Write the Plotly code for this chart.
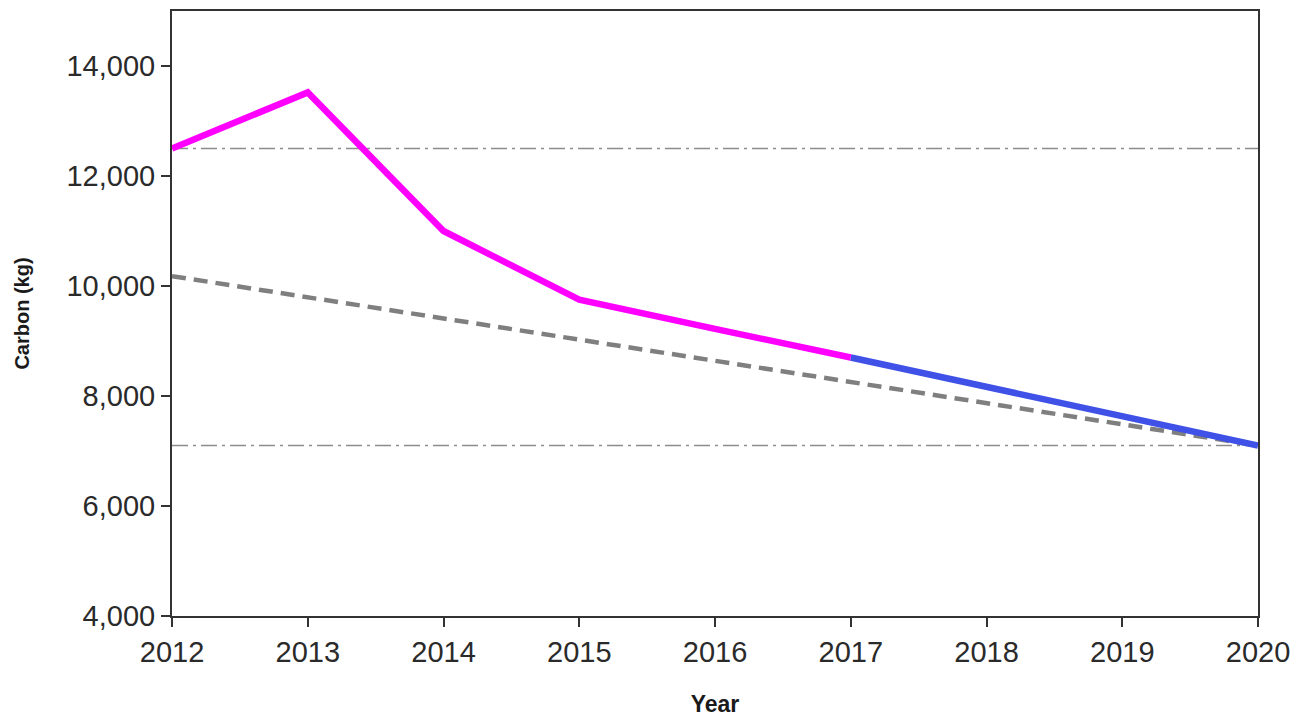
import plotly.graph_objects as go

years_actual = [2012, 2013, 2014, 2015, 2016, 2017]
carbon_actual = [12500, 13520, 11000, 9750, 9220, 8700]

years_proj = [2017, 2018, 2019, 2020]
carbon_proj = [8700, 8170, 7640, 7100]

years_trend = [2012, 2020]
carbon_trend = [10180, 7100]

years_ref = [2012, 2020]
ref_upper = [12500, 12500]
ref_lower = [7100, 7100]

y_ticks = [4000, 6000, 8000, 10000, 12000, 14000]
x_ticks = [2012, 2013, 2014, 2015, 2016, 2017, 2018, 2019, 2020]

fig = go.Figure()
fig.add_trace(go.Scatter(x=years_ref, y=ref_upper, mode="lines",
                         line=dict(color="#8c8c8c", width=1.5, dash="16px,5px,3px,5px"),
                         hoverinfo="skip", showlegend=False))
fig.add_trace(go.Scatter(x=years_ref, y=ref_lower, mode="lines",
                         line=dict(color="#8c8c8c", width=1.5, dash="16px,5px,3px,5px"),
                         hoverinfo="skip", showlegend=False))
fig.add_trace(go.Scatter(x=years_trend, y=carbon_trend, mode="lines",
                         line=dict(color="#7f7f7f", width=4.5, dash="14px,8px"),
                         showlegend=False))
fig.add_trace(go.Scatter(x=years_proj, y=carbon_proj, mode="lines",
                         line=dict(color="#3f51e6", width=6.5),
                         showlegend=False))
fig.add_trace(go.Scatter(x=years_actual, y=carbon_actual, mode="lines",
                         line=dict(color="#ff00ff", width=6.5),
                         showlegend=False))

font_family = "Liberation Sans, Arial, sans-serif"
fig.update_layout(
    width=1310, height=716,
    margin=dict(l=164, r=60, t=1, b=108),
    paper_bgcolor="white", plot_bgcolor="white",
    font=dict(family=font_family, color="#262626"),
)
fig.update_xaxes(
    range=[2012, 2020], tickvals=x_ticks, ticktext=[str(v) for v in x_ticks],
    ticks="outside", ticklen=9, tickwidth=1.5, tickcolor="#333",
    showline=True, linecolor="#333", linewidth=2, mirror=True,
    showgrid=False, zeroline=False,
    tickfont=dict(size=29, family=font_family, color="#2a2a2a"),
    title=dict(text="<b>Year</b>", font=dict(size=23, family=font_family, color="#1a1a1a"), standoff=29),
)
fig.update_yaxes(
    range=[4000, 15000], tickvals=y_ticks, ticktext=[f"{v:,}" for v in y_ticks],
    ticks="outside", ticklen=9, tickwidth=1.5, tickcolor="#333",
    showline=True, linecolor="#333", linewidth=2, mirror=True,
    showgrid=False, zeroline=False,
    tickfont=dict(size=29, family=font_family, color="#2a2a2a"),
    title=dict(text="<b>Carbon (kg)</b>", font=dict(size=20, family=font_family, color="#1a1a1a"), standoff=31),
)

fig.write_html("out.html")
